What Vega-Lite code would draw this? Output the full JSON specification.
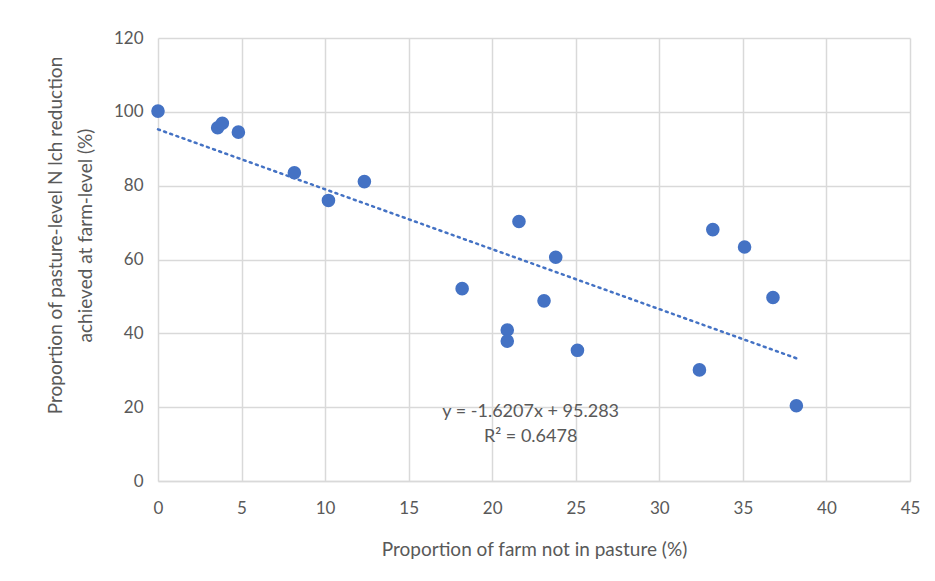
{
  "$schema": "https://vega.github.io/schema/vega-lite/v6.json",
  "width": 752,
  "height": 443,
  "autosize": {"type": "none"},
  "padding": {"left": 158, "top": 38, "right": 25, "bottom": 100},
  "background": "white",
  "config": {
    "font": "Lato",
    "view": {"stroke": null},
    "axis": {
      "gridColor": "#d9d9d9",
      "gridWidth": 1.5,
      "ticks": false,
      "labelFlush": false,
      "labelColor": "#595959",
      "labelFontSize": 17,
      "titleColor": "#595959",
      "titleFontSize": 19,
      "titleFontWeight": "normal"
    }
  },
  "data": {
    "values": [
      {"x": 0.0, "y": 100.2},
      {"x": 3.57, "y": 95.7},
      {"x": 3.85, "y": 96.9},
      {"x": 4.81, "y": 94.5},
      {"x": 8.16, "y": 83.5},
      {"x": 10.2, "y": 76.0},
      {"x": 12.35, "y": 81.1},
      {"x": 18.2, "y": 52.1},
      {"x": 20.9, "y": 40.9},
      {"x": 20.9, "y": 37.9},
      {"x": 21.6, "y": 70.3},
      {"x": 23.1, "y": 48.8},
      {"x": 23.8, "y": 60.6},
      {"x": 25.1, "y": 35.4},
      {"x": 32.4, "y": 30.1},
      {"x": 33.2, "y": 68.1},
      {"x": 35.1, "y": 63.4},
      {"x": 36.8, "y": 49.7},
      {"x": 38.2, "y": 20.4}
    ]
  },
  "layer": [
    {
      "mark": {"type": "line", "strokeDash": [2, 4.5], "strokeWidth": 2.5, "strokeCap": "round", "color": "#4472C4"},
      "transform": [{"regression": "y", "on": "x", "extent": [0, 38.2]}],
      "encoding": {
        "x": {"field": "x", "type": "quantitative"},
        "y": {"field": "y", "type": "quantitative"}
      }
    },
    {
      "mark": {"type": "circle", "size": 185, "opacity": 1, "color": "#4472C4"},
      "encoding": {
        "x": {
          "field": "x", "type": "quantitative",
          "scale": {"domain": [0, 45], "nice": false, "zero": false},
          "axis": {
            "values": [0, 5, 10, 15, 20, 25, 30, 35, 40, 45],
            "title": "Proportion of farm not in pasture (%)",
            "domainColor": "#d9d9d9",
            "domainWidth": 1.5,
            "labelPadding": 19,
            "titleY": 59,
            "titleBaseline": "top"
          }
        },
        "y": {
          "field": "y", "type": "quantitative",
          "scale": {"domain": [0, 120], "nice": false},
          "axis": {
            "values": [0, 20, 40, 60, 80, 100, 120],
            "domain": false,
            "labelPadding": 15,
            "title": ["Proportion of pasture-level N lch reduction", "achieved at farm-level (%)"],
            "titleAngle": -90,
            "titleAlign": "center",
            "titleBaseline": "top",
            "titleX": -112,
            "titleY": 197,
            "titleLineHeight": 30
          }
        }
      }
    },
    {
      "data": {"values": [{}]},
      "mark": {"type": "text", "align": "center", "baseline": "middle", "fontSize": 18, "color": "#595959", "lineHeight": 25},
      "encoding": {
        "x": {"datum": 22.3},
        "y": {"datum": 18.8},
        "text": {"value": ["y = -1.6207x + 95.283", "R² = 0.6478"]}
      }
    }
  ]
}
